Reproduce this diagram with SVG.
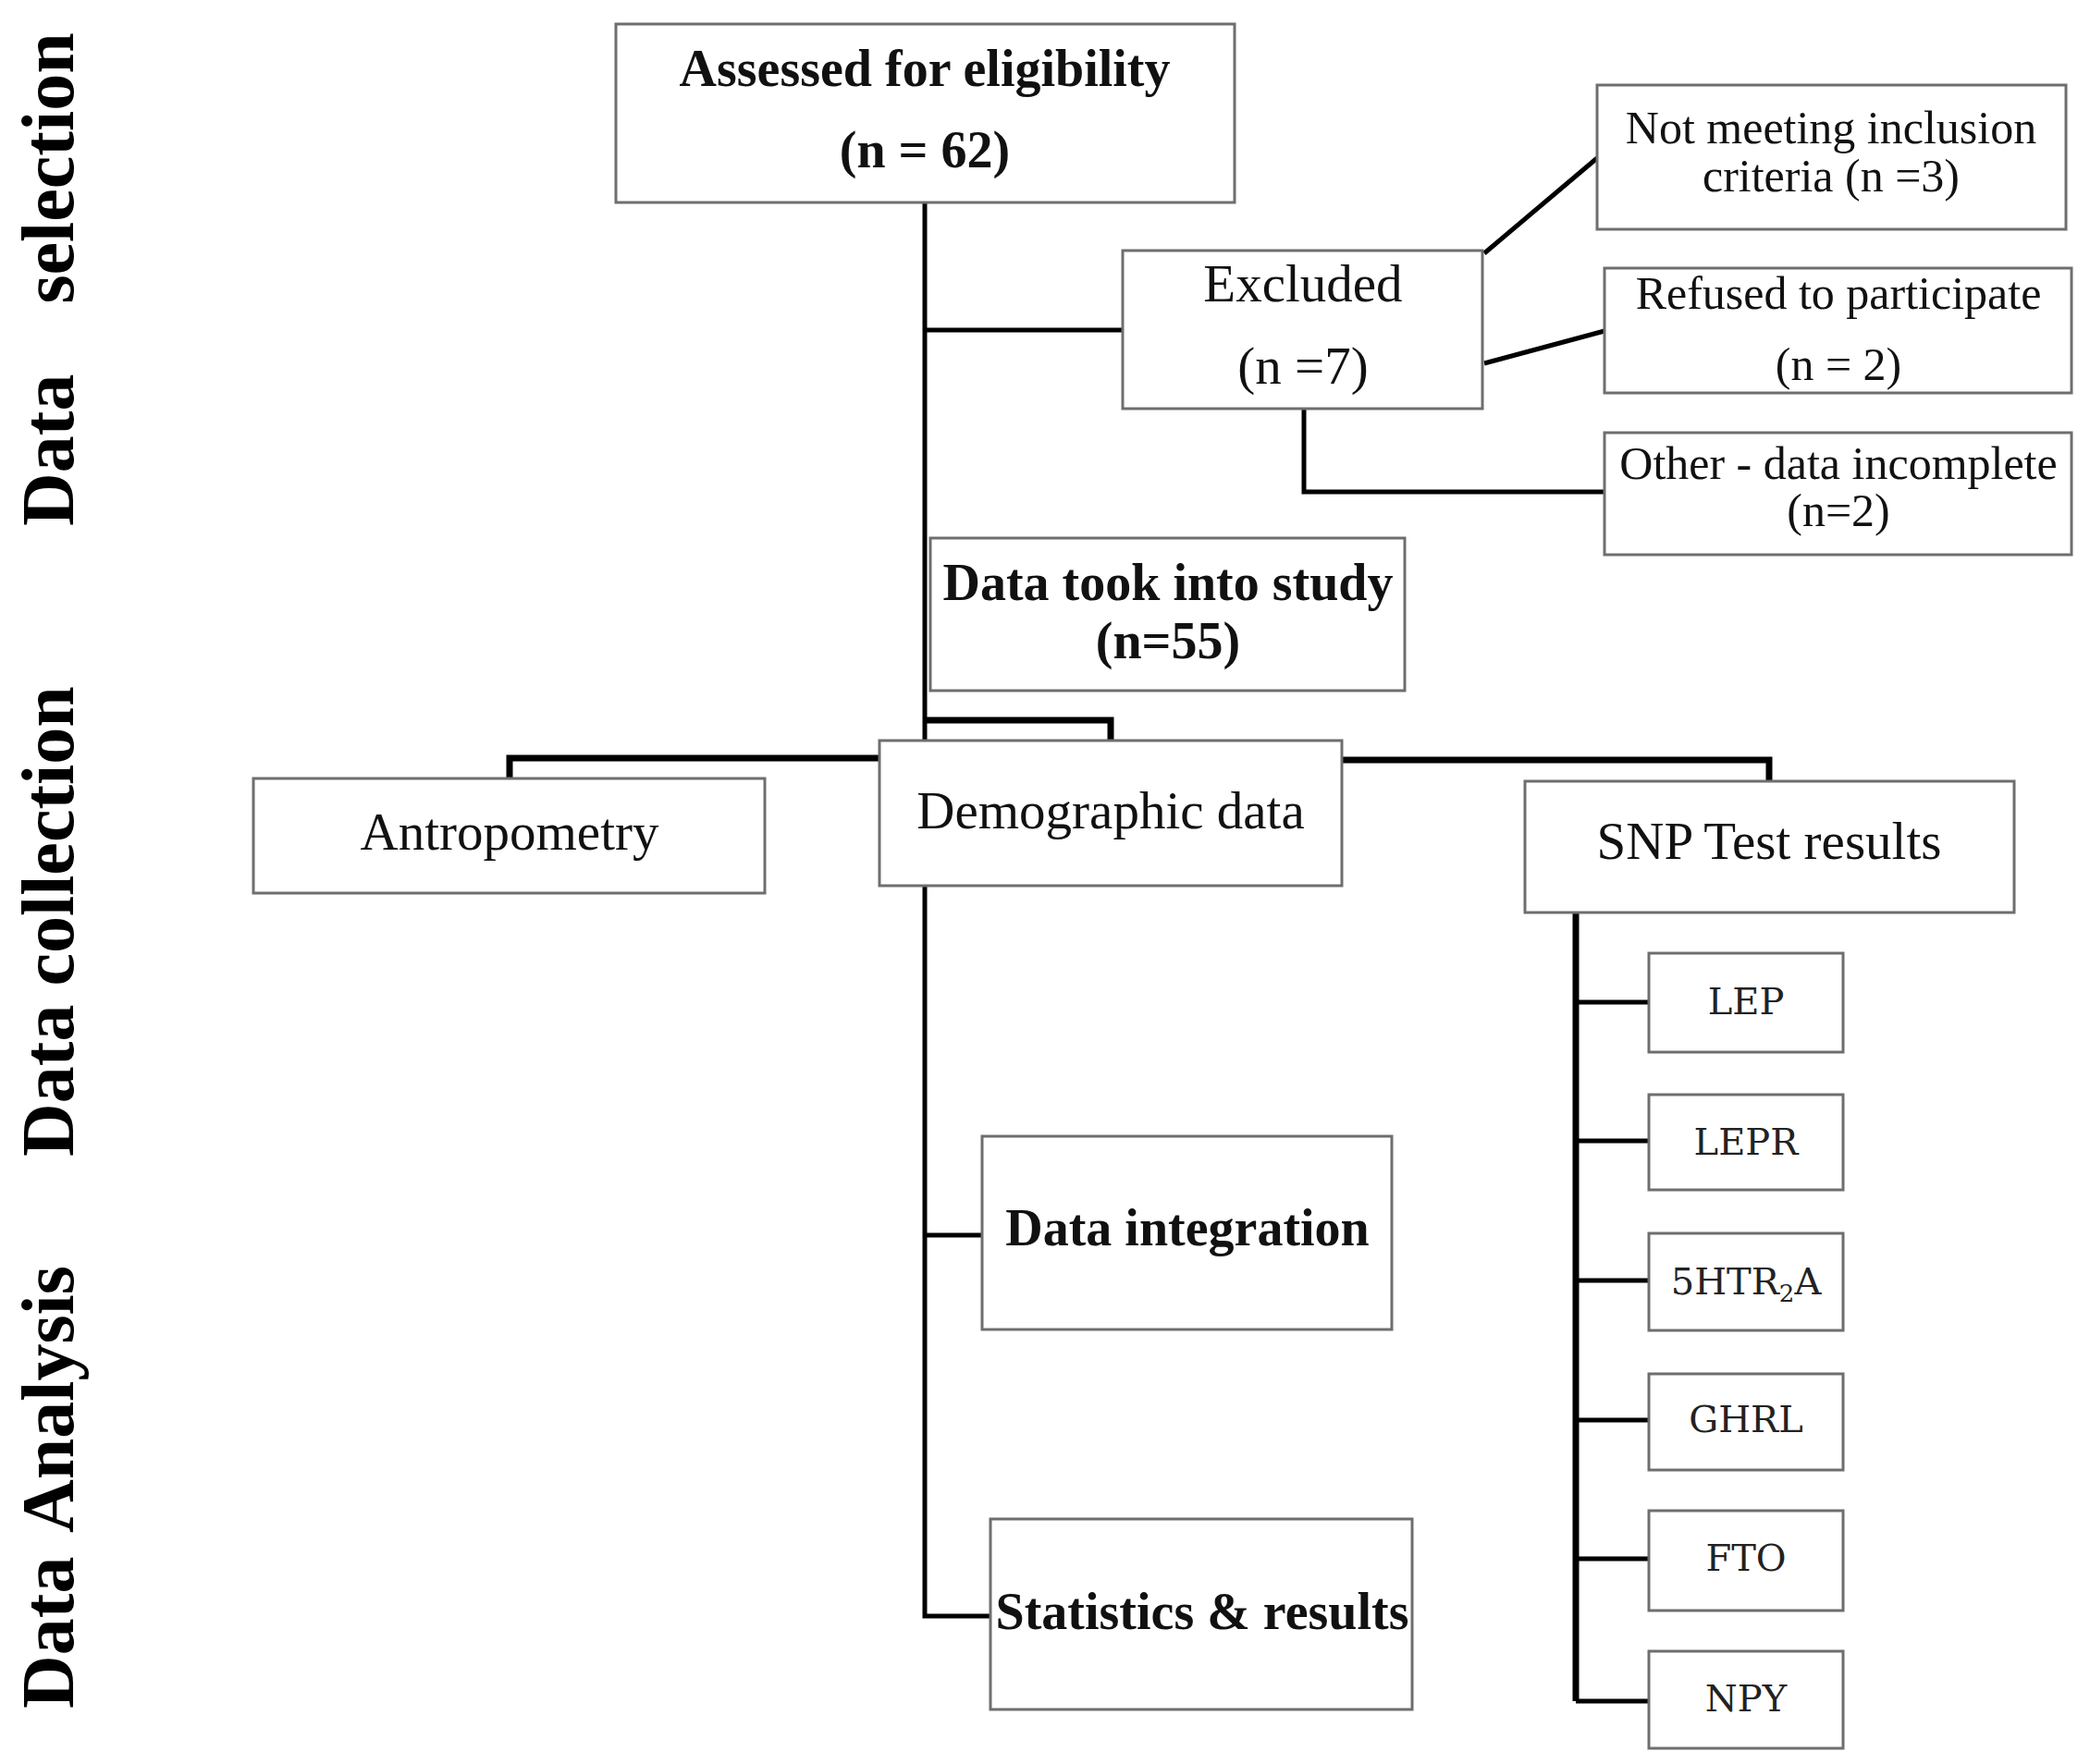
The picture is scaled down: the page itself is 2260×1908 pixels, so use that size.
<svg xmlns="http://www.w3.org/2000/svg" width="2260" height="1908" viewBox="0 0 2260 1908">
<style>
.box{fill:#fff;stroke:#6e6e6e;stroke-width:3}
.t{font-family:"Liberation Serif",serif;fill:#111;text-anchor:middle}
.r{font-size:57px}
.s{font-size:50px}
.b{font-weight:bold;font-size:56px}
.g{font-family:"DejaVu Serif",serif;font-size:40px;fill:#222;text-anchor:middle}
.side{font-family:"Liberation Serif",serif;font-weight:bold;font-size:80px;fill:#000}
.c{fill:none;stroke:#000;stroke-width:5}
.ck{fill:none;stroke:#000;stroke-width:7}
</style>
<rect width="2260" height="1908" fill="#fff"/>
<g id="labels">
<text class="side" transform="translate(79,569) rotate(-90)" word-spacing="56">Data selection</text>
<text class="side" transform="translate(79,1251) rotate(-90)">Data collection</text>
<text class="side" transform="translate(79,1848) rotate(-90)" word-spacing="10">Data Analysis</text>
</g>
<g id="connectors">
<path class="c" d="M1000,219 V1748 H1071"/>
<path class="c" d="M1000,357 H1214"/>
<path class="c" d="M1605,274 L1727,171"/>
<path class="c" d="M1605,393 L1735,358"/>
<path class="c" d="M1410,442 V532 H1735"/>
<path class="ck" d="M1000,779 H1201 V801"/>
<path class="ck" d="M951,820 H551 V842"/>
<path class="ck" d="M1451,822 H1913 V845"/>
<path class="c" d="M1000,1336 H1062"/>
<path class="ck" d="M1704,987 V1840"/>
<path class="c" d="M1704,1084 H1783 M1704,1234 H1783 M1704,1385 H1783 M1704,1536 H1783 M1704,1686 H1783 M1704,1840 H1783"/>
</g>
<g id="assessed">
<rect class="box" x="666" y="26" width="669" height="193"/>
<text class="t b" x="1000" y="93">Assessed for eligibility</text>
<text class="t b" x="1000" y="181">(n = 62)</text>
</g>
<g id="excluded">
<rect class="box" x="1214" y="271" width="389" height="171"/>
<text class="t r" x="1409" y="326">Excluded</text>
<text class="t r" x="1409" y="415">(n =7)</text>
</g>
<g id="not-meeting">
<rect class="box" x="1727" y="92" width="507" height="156"/>
<text class="t s" x="1980" y="155">Not meeting inclusion</text>
<text class="t s" x="1980" y="207">criteria (n =3)</text>
</g>
<g id="refused">
<rect class="box" x="1735" y="290" width="505" height="135"/>
<text class="t s" x="1988" y="334">Refused to participate</text>
<text class="t s" x="1988" y="411">(n = 2)</text>
</g>
<g id="other">
<rect class="box" x="1735" y="468" width="505" height="132"/>
<text class="t s" x="1988" y="518">Other - data incomplete</text>
<text class="t s" x="1988" y="569">(n=2)</text>
</g>
<g id="data-took">
<rect class="box" x="1006" y="582" width="513" height="165"/>
<text class="t b" x="1263" y="649">Data took into study</text>
<text class="t b" x="1263" y="712">(n=55)</text>
</g>
<g id="antropometry">
<rect class="box" x="274" y="842" width="553" height="124"/>
<text class="t r" x="551" y="919">Antropometry</text>
</g>
<g id="demographic">
<rect class="box" x="951" y="801" width="500" height="157"/>
<text class="t r" x="1201" y="896">Demographic data</text>
</g>
<g id="snp">
<rect class="box" x="1649" y="845" width="529" height="142"/>
<text class="t r" x="1913" y="929">SNP Test results</text>
</g>
<g id="lep">
<rect class="box" x="1783" y="1031" width="210" height="107"/>
<text class="g" x="1888" y="1097">LEP</text>
</g>
<g id="lepr">
<rect class="box" x="1783" y="1184" width="210" height="103"/>
<text class="g" x="1888" y="1249">LEPR</text>
</g>
<g id="htr2a">
<rect class="box" x="1783" y="1334" width="210" height="105"/>
<text class="g" x="1888" y="1400">5HTR<tspan font-size="26" dy="8">2</tspan><tspan dy="-8">A</tspan></text>
</g>
<g id="ghrl">
<rect class="box" x="1783" y="1486" width="210" height="104"/>
<text class="g" x="1888" y="1549">GHRL</text>
</g>
<g id="fto">
<rect class="box" x="1783" y="1634" width="210" height="108"/>
<text class="g" x="1888" y="1699">FTO</text>
</g>
<g id="npy">
<rect class="box" x="1783" y="1786" width="210" height="105"/>
<text class="g" x="1888" y="1851">NPY</text>
</g>
<g id="integration">
<rect class="box" x="1062" y="1229" width="443" height="209"/>
<text class="t b" x="1284" y="1347">Data integration</text>
</g>
<g id="statistics">
<rect class="box" x="1071" y="1643" width="456" height="206"/>
<text class="t b" x="1300" y="1762">Statistics &amp; results</text>
</g>
</svg>
